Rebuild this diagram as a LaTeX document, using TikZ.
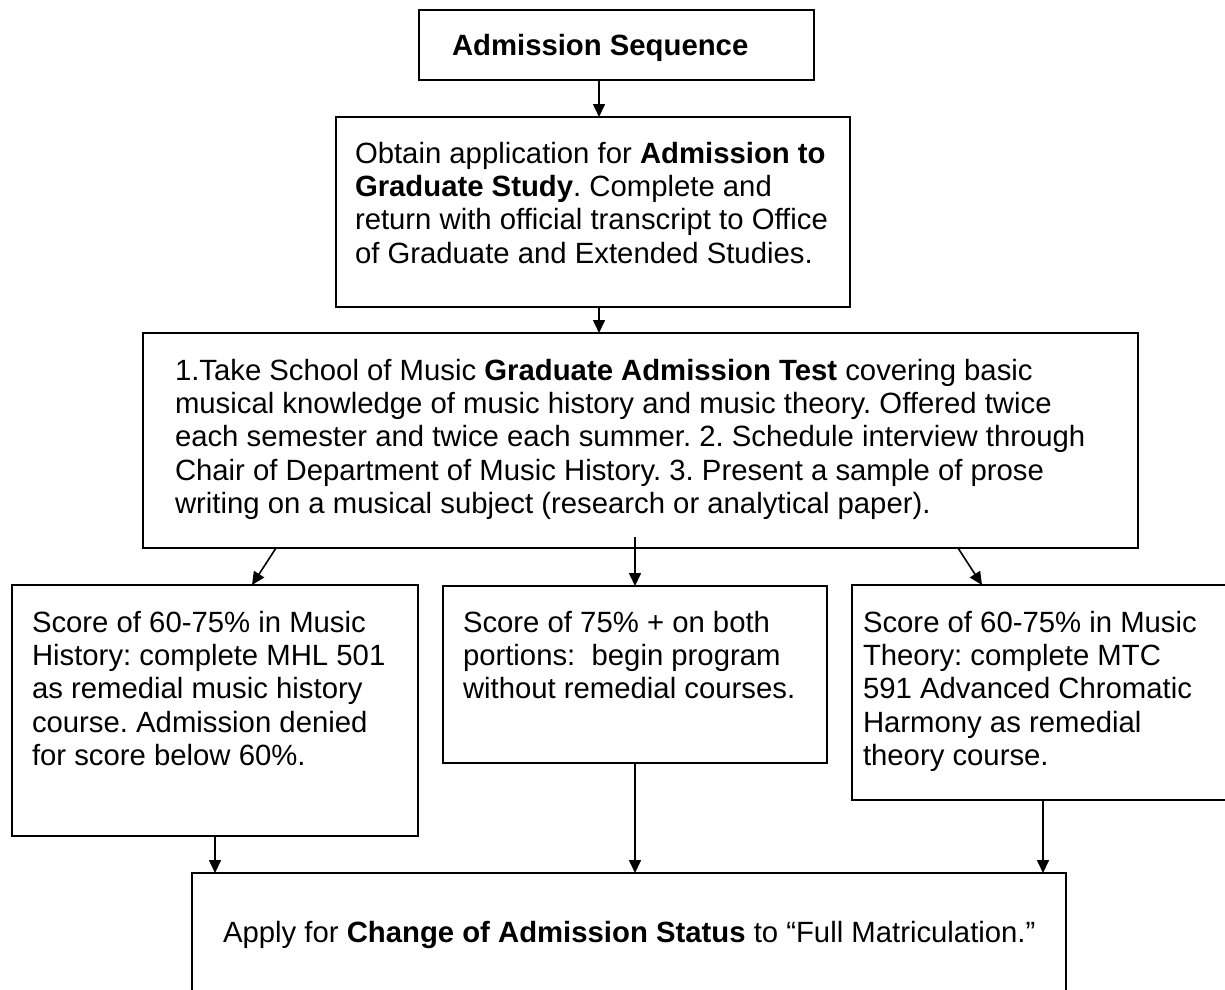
\documentclass[tikz,border=0pt]{standalone}
\usepackage{fontspec}
\setmainfont{Liberation Sans}
\usetikzlibrary{arrows.meta}
\frenchspacing
\tikzset{
  box/.style={draw=black, line width=1.8pt, inner sep=0pt, outer sep=0pt, anchor=north west, rectangle},
  txt/.style={inner sep=0pt, outer sep=0pt, anchor=base west, font=\fontsize{29.3}{33.4}\selectfont},
  arr/.style={line width=1.6pt, -{Triangle[length=13pt,width=12pt]}}
}
\newcommand{\tb}[2]{\parbox[t]{#1}{\raggedright\frenchspacing #2}}
\begin{document}
\begin{tikzpicture}[x=1pt,y=-1pt]
\useasboundingbox (0,0) rectangle (1225,989);
\clip (0,0) rectangle (1225,989);
% boxes
\node[box, minimum width=395pt, minimum height=70pt] (b1) at (419,10) {};
\node[box, minimum width=514pt, minimum height=190pt] (b2) at (336,117) {};
\node[box, minimum width=995pt, minimum height=215pt] (b3) at (143,333) {};
\node[box, minimum width=406pt, minimum height=251pt] (b4) at (12,585) {};
\node[box, minimum width=384pt, minimum height=177pt] (b5) at (443,586) {};
\node[box, minimum width=400pt, minimum height=215pt] (b6) at (852,585) {};
\node[box, minimum width=874pt, minimum height=200pt] (b7) at (192,873) {};
% texts
\node[txt] (t1) at (452,55) {\textbf{Admission Sequence}};
\node[txt] (t2) at (355,163) {\tb{500pt}{Obtain application for \textbf{Admission to}\\
\textbf{Graduate Study}. Complete and\\
return with official transcript to Office\\
of Graduate and Extended Studies.}};
\node[txt] (t3) at (175,380) {\tb{960pt}{1.Take School of Music \textbf{Graduate Admission Test} covering basic\\
musical knowledge of music history and music theory. Offered twice\\
each semester and twice each summer. 2. Schedule interview through\\
Chair of Department of Music History. 3. Present a sample of prose\\
writing on a musical subject (research or analytical paper).}};
\node[txt] (t4) at (32,632) {\tb{390pt}{Score of 60-75\% in Music\\
History: complete MHL 501\\
as remedial music history\\
course. Admission denied\\
for score below 60\%.}};
\node[txt] (t5) at (463,632) {\tb{370pt}{Score of 75\% + on both\\
portions:~ begin program\\
without remedial courses.}};
\node[txt] (t6) at (863,632) {\tb{370pt}{Score of 60-75\% in Music\\
Theory: complete MTC\\
591 Advanced Chromatic\\
Harmony as remedial\\
theory course.}};
\node[txt] (t7) at (223,942) {Apply for \textbf{Change of Admission Status} to “Full Matriculation.”};
% connector end points
\coordinate (s3) at (276,548);
\coordinate (e3) at (252,585);
\coordinate (s4) at (635,537);
\coordinate (e4) at (635,586);
\coordinate (s5) at (958,548);
\coordinate (e5) at (982,585);
% connectors
\draw[arr] (b1.south -| 599,0) -- (b2.north -| 599,0);
\draw[arr] (b2.south -| 599,0) -- (b3.north -| 599,0);
\draw[arr] (s3) -- (e3);
\draw[arr] (s4) -- (e4);
\draw[arr] (s5) -- (e5);
\draw[arr] (b4.south -| 215,0) -- (b7.north -| 215,0);
\draw[arr] (b5.south -| 635,0) -- (b7.north -| 635,0);
\draw[arr] (b6.south -| 1043,0) -- (b7.north -| 1043,0);
\end{tikzpicture}
\end{document}
